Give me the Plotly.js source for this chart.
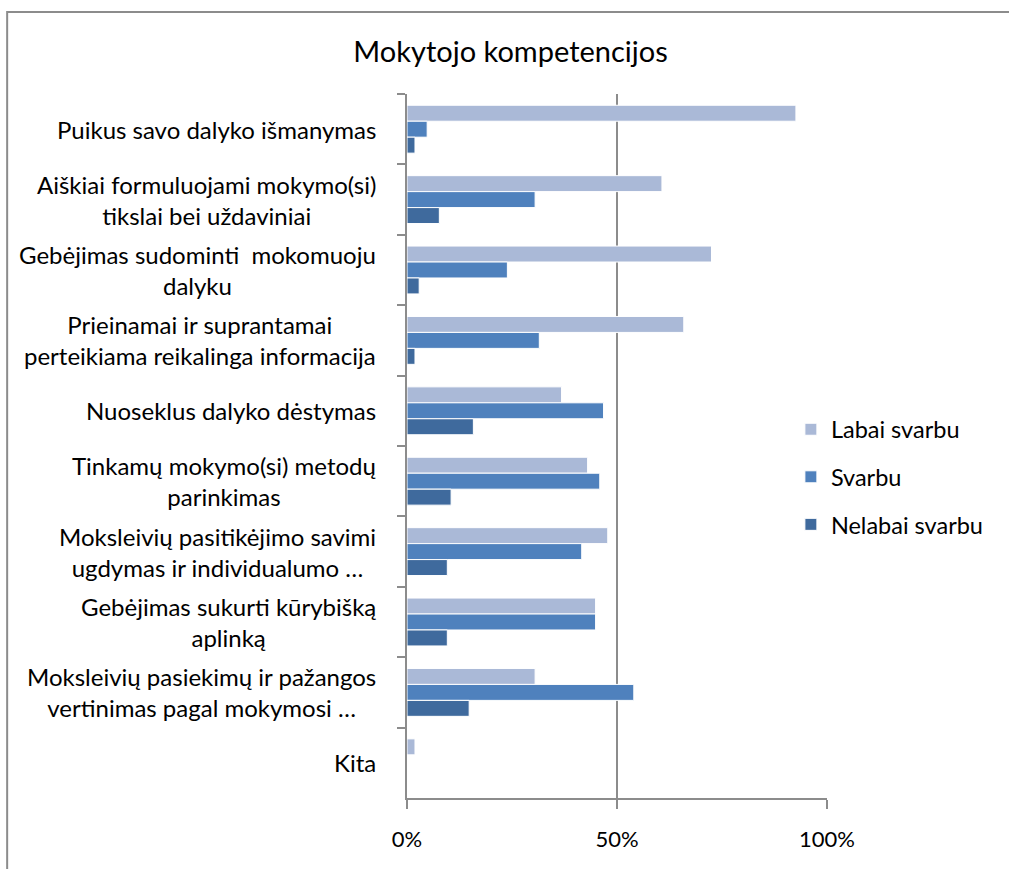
<!DOCTYPE html>
<html>
<head>
<meta charset="utf-8">
<script src="https://cdn.plot.ly/plotly-3.0.1.min.js"></script>
<style>html,body{margin:0;padding:0;background:#fff;}#chart{width:1009px;height:869px;}</style>
</head>
<body>
<div id="chart"></div>
<script>
var categories = [
  "Puikus savo dalyko išmanymas",
  "Aiškiai formuluojami mokymo(si)<br>tikslai bei uždaviniai",
  "Gebėjimas sudominti  mokomuoju<br>dalyku",
  "Prieinamai ir suprantamai<br>perteikiama reikalinga informacija",
  "Nuoseklus dalyko dėstymas",
  "Tinkamų mokymo(si) metodų<br>parinkimas",
  "Moksleivių pasitikėjimo savimi<br>ugdymas ir individualumo …",
  "Gebėjimas sukurti kūrybišką<br>aplinką",
  "Moksleivių pasiekimų ir pažangos<br>vertinimas pagal mokymosi …",
  "Kita"
];
var seriesNames = ["Labai svarbu", "Svarbu", "Nelabai svarbu"];
var labaiSvarbu   = [92.6, 60.7, 72.5, 65.9, 36.8, 43.0, 47.8, 44.9, 30.5, 1.9];
var svarbu        = [4.8, 30.5, 23.9, 31.5, 46.8, 45.9, 41.6, 44.9, 54.0, 0];
var nelabaiSvarbu = [1.9, 7.7, 2.9, 1.9, 15.8, 10.5, 9.6, 9.6, 14.8, 0];
var xTickVals = [0, 50, 100];
var xTickText = ["0%", "50%", "100%"];

var colors = ["#AAB9D7", "#4F81BD", "#3F6A9D"];
var values = [labaiSvarbu, svarbu, nelabaiSvarbu];
var fontFam = "Lato, 'Open Sans', sans-serif";

var traces = values.map(function(v, i){
  return {
    type: "bar", orientation: "h",
    name: seriesNames[i], legendgroup: "g" + i,
    x: v, y: categories,
    marker: {color: colors[i], line: {color: "#ffffff", width: 1}},
    hoverinfo: "x+name"
  };
});

var annotations = categories.map(function(c){
  return {
    xref: "paper", yref: "y", x: 0, y: c, xshift: -29,
    xanchor: "right", yanchor: "middle", align: "center",
    text: c, showarrow: false,
    font: {family: fontFam, size: 24, color: "#000"}
  };
});

var layout = {
  width: 1009, height: 869,
  margin: {l: 407, r: 182, t: 94, b: 71},
  paper_bgcolor: "#fff", plot_bgcolor: "#fff",
  font: {family: fontFam, size: 23, color: "#000"},
  title: {text: "Mokytojo kompetencijos", x: 0.506, xanchor: "center", y: 0.940, yanchor: "middle",
          font: {family: fontFam, size: 29, color: "#000"}},
  barmode: "group", bargap: 0.32, bargroupgap: 0,
  xaxis: {
    range: [0, 100], tickvals: xTickVals, ticktext: xTickText,
    showgrid: true, gridcolor: "#8c8c8c", gridwidth: 2,
    showline: true, linecolor: "#8c8c8c", linewidth: 2,
    ticks: "outside", ticklen: 9, tickwidth: 2, tickcolor: "#8c8c8c",
    ticklabelstandoff: 12, zeroline: false, fixedrange: true,
    tickfont: {family: fontFam, size: 22, color: "#000"}
  },
  yaxis: {
    type: "category", autorange: "reversed",
    showticklabels: false, tickson: "boundaries",
    ticks: "outside", ticklen: 8, tickwidth: 2, tickcolor: "#8c8c8c",
    showline: true, linecolor: "#8c8c8c", linewidth: 2,
    showgrid: false, zeroline: false, fixedrange: true
  },
  legend: {
    x: 0.914, y: 0.456, xanchor: "left", yanchor: "middle",
    traceorder: "grouped", tracegroupgap: 14,
    bgcolor: "rgba(0,0,0,0)",
    font: {family: fontFam, size: 23.5, color: "#000"}
  },
  annotations: annotations,
  shapes: [{
    type: "rect", xref: "paper", yref: "paper",
    x0: -0.952, x1: 1.45, y0: -0.11, y1: 1.1165,
    line: {color: "#8c8c8c", width: 2}, fillcolor: "rgba(0,0,0,0)", layer: "below"
  }]
};

Plotly.newPlot("chart", traces, layout, {displayModeBar: false, staticPlot: true});
</script>
</body>
</html>
